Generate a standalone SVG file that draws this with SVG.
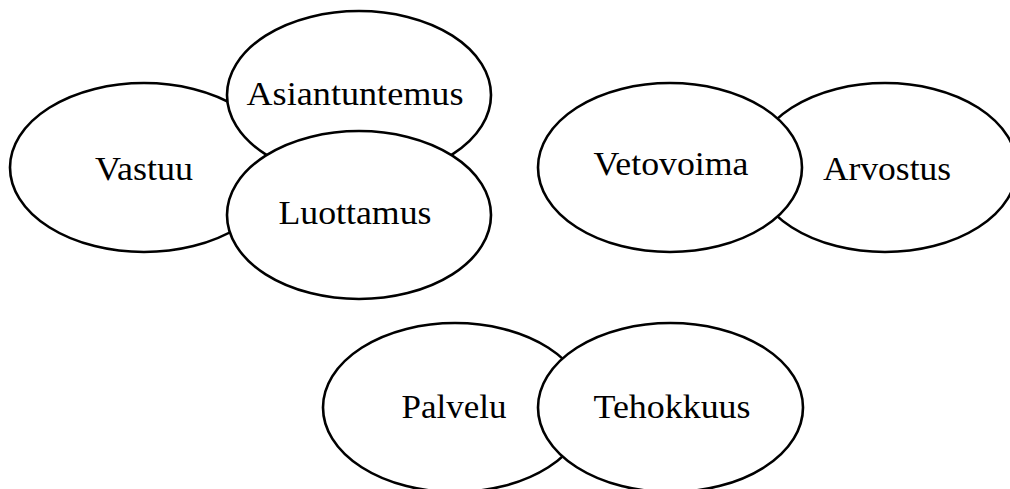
<svg xmlns="http://www.w3.org/2000/svg" width="1010" height="489" viewBox="0 0 1010 489">
  <style>
    .bubble { fill: #ffffff; stroke: #000000; stroke-width: 2.6; }
    .label { font-family: "Liberation Serif", "DejaVu Serif", serif; font-size: 33px; fill: #000000; text-anchor: middle; }
  </style>
  <rect x="0" y="0" width="1010" height="489" fill="#ffffff"/>

  <!-- left cluster: drawn back to front -->
  <g id="node-vastuu">
    <ellipse class="bubble" cx="144" cy="167.5" rx="134" ry="84.5"/>
    <text class="label" x="144" y="180" textLength="98" lengthAdjust="spacingAndGlyphs">Vastuu</text>
  </g>
  <g id="node-asiantuntemus">
    <ellipse class="bubble" cx="359" cy="95" rx="132" ry="84"/>
    <text class="label" x="355" y="105" textLength="217" lengthAdjust="spacingAndGlyphs">Asiantuntemus</text>
  </g>
  <g id="node-luottamus">
    <ellipse class="bubble" cx="359" cy="215" rx="132" ry="84"/>
    <text class="label" x="355" y="224" textLength="153" lengthAdjust="spacingAndGlyphs">Luottamus</text>
  </g>

  <!-- right pair -->
  <g id="node-arvostus">
    <ellipse class="bubble" cx="885" cy="167.5" rx="132" ry="84.5"/>
    <text class="label" x="887" y="180" textLength="128" lengthAdjust="spacingAndGlyphs">Arvostus</text>
  </g>
  <g id="node-vetovoima">
    <ellipse class="bubble" cx="670" cy="167.5" rx="132" ry="84.5"/>
    <text class="label" x="671" y="175" textLength="155" lengthAdjust="spacingAndGlyphs">Vetovoima</text>
  </g>

  <!-- bottom pair -->
  <g id="node-palvelu">
    <ellipse class="bubble" cx="455" cy="407.5" rx="132" ry="84.5"/>
    <text class="label" x="454" y="418" textLength="105" lengthAdjust="spacingAndGlyphs">Palvelu</text>
  </g>
  <g id="node-tehokkuus">
    <ellipse class="bubble" cx="670.5" cy="407.5" rx="132.5" ry="84.5"/>
    <text class="label" x="672" y="418" textLength="157" lengthAdjust="spacingAndGlyphs">Tehokkuus</text>
  </g>

  <g id="connectors"/>
</svg>
